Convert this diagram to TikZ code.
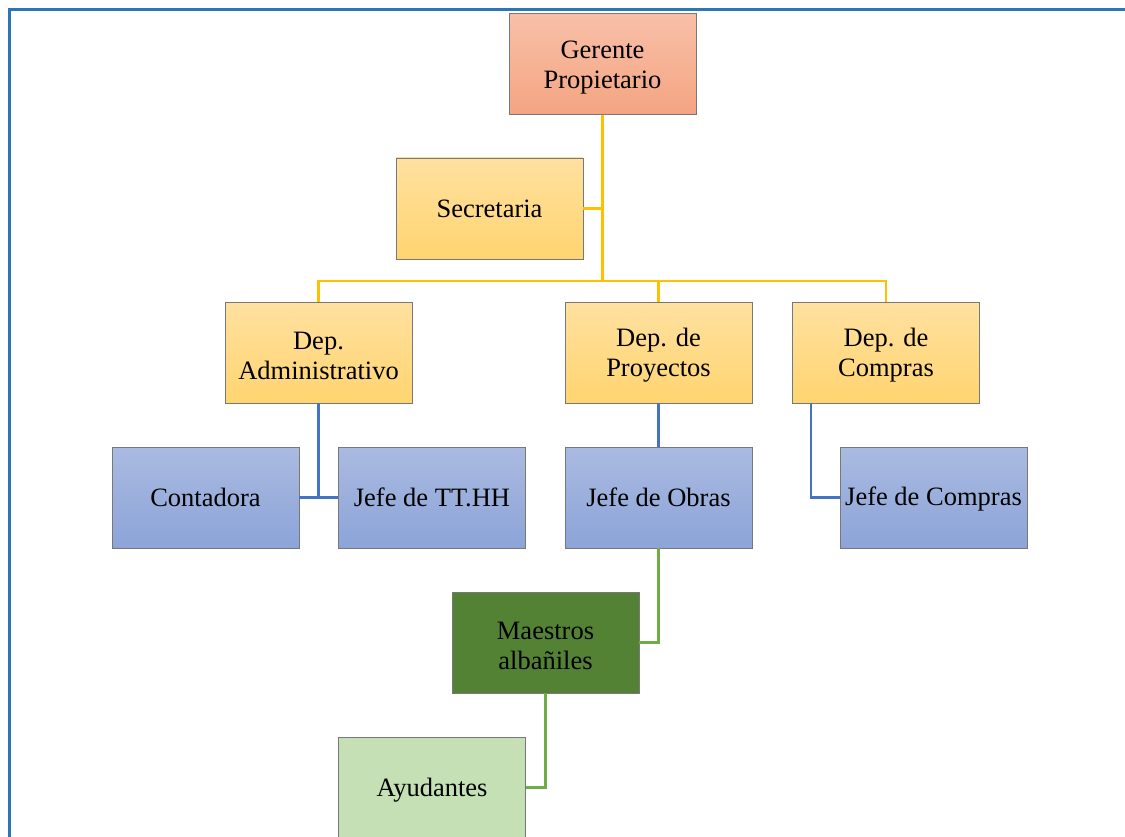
\documentclass[tikz,border=0pt]{standalone}
\usepackage{fontspec}
\setmainfont{Liberation Serif}
\definecolor{frameblue}{RGB}{46,117,182}
\definecolor{gold}{RGB}{255,192,0}
\definecolor{lineblue}{RGB}{68,114,196}
\definecolor{linegreen}{RGB}{112,173,71}
\definecolor{peachtop}{RGB}{248,192,168}
\definecolor{peachbot}{RGB}{244,164,130}
\definecolor{yeltop}{RGB}{255,224,160}
\definecolor{yelbot}{RGB}{255,213,112}
\definecolor{bluetop}{RGB}{170,186,225}
\definecolor{bluebot}{RGB}{140,164,216}
\definecolor{darkgreen}{RGB}{84,130,53}
\definecolor{lightgreen}{RGB}{197,224,180}
\definecolor{boxborder}{RGB}{120,120,120}
\newcommand{\tl}{\rule{0pt}{24pt}}
\tikzset{
  box/.style={draw=boxborder, line width=0.8pt, minimum width=187pt, minimum height=101pt,
    inner sep=0pt, align=center, font=\fontsize{26.5}{30}\selectfont, text=black},
  peachbox/.style={box, top color=peachtop, bottom color=peachbot},
  yelbox/.style={box, top color=yeltop, bottom color=yelbot},
  bluebox/.style={box, top color=bluetop, bottom color=bluebot},
  dgbox/.style={box, fill=darkgreen},
  lgbox/.style={box, fill=lightgreen},
  goldline/.style={draw=gold, line width=2.5pt},
  blueline/.style={draw=lineblue, line width=2.5pt},
  greenline/.style={draw=linegreen, line width=2.5pt},
}
\begin{document}
\begin{tikzpicture}[x=1pt,y=-1pt]
\useasboundingbox (0,0) rectangle (1125,837);
\clip (0,0) rectangle (1125,837);
\fill[white] (0,0) rectangle (1125,837);
\draw[frameblue, line width=2.8pt] (9.5,850) -- (9.5,9.5) -- (1140,9.5);

\node[peachbox] (ger) at (602.5,64) {\tl Gerente\\Propietario};
\node[yelbox] (sec) at (489.5,208.5) {Secretaria};
\node[yelbox] (adm) at (318.5,352.5) {\tl Dep.\\Administrativo};
\node[yelbox] (pro) at (658.5,352.5) {\tl Dep. de\\Proyectos};
\node[yelbox] (com) at (886,352.5) {\tl Dep. de\\Compras};
\node[bluebox] (cont) at (205.5,497.5) {Contadora};
\node[bluebox] (tthh) at (432,497.5) {Jefe de TT.HH};
\node[bluebox] (obras) at (658.5,497.5) {Jefe de Obras};
\node[bluebox, text depth=3pt] (jcom) at (933.5,497.5) {Jefe de Compras};
\node[dgbox] (mae) at (545.5,642.5) {\tl Maestros\\albañiles};
\node[lgbox, text depth=1pt] (ayu) at (432,787.5) {Ayudantes};

\coordinate (bus) at (602.5,281);
\draw[goldline] (ger.south) -- (bus);
\draw[goldline] (sec.east) -- (sec.east -| ger.south);
\draw[goldline] (adm.north) |- (bus);
\draw[goldline] (com.north) |- (bus);
\draw[goldline] (pro.north) -- (pro.north |- bus);

\draw[blueline] (adm.south) -- (adm.south |- cont.east);
\draw[blueline] (cont.east) -- (tthh.west);
\draw[blueline] (pro.south) -- (obras.north);
\draw[blueline] ([xshift=-75pt]com.south) |- (jcom.west);

\draw[greenline] (obras.south) |- (mae.east);
\draw[greenline] (mae.south) |- (ayu.east);
\end{tikzpicture}
\end{document}
